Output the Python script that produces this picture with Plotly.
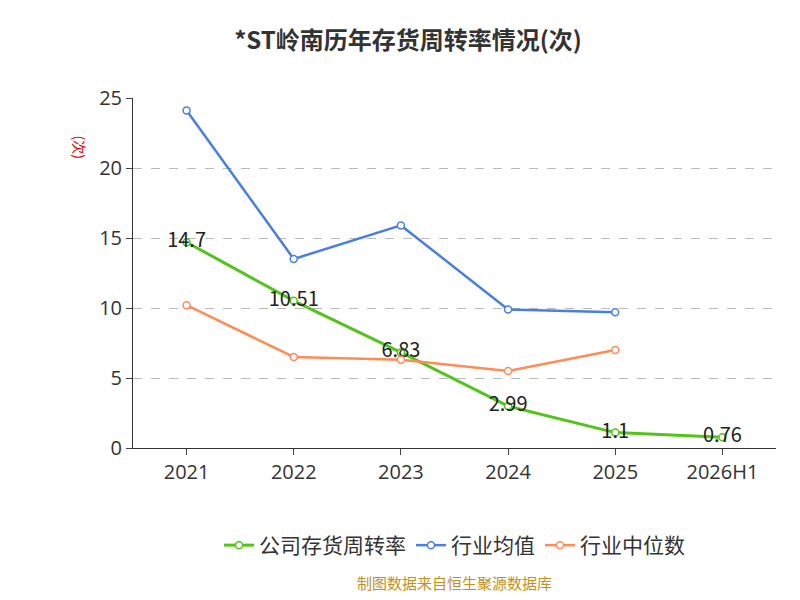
import plotly.graph_objects as go

years = ['2021', '2022', '2023', '2024', '2025', '2026H1']
company = [14.7, 10.51, 6.83, 2.99, 1.1, 0.76]
industry_mean = [24.1, 13.5, 15.9, 9.9, 9.7]
industry_median = [10.2, 6.5, 6.3, 5.5, 7.0]

fig = go.Figure()

fig.add_trace(go.Scatter(
    x=years, y=company, name='公司存货周转率', mode='lines+markers+text',
    text=[str(v) for v in company], textposition='middle center',
    textfont=dict(size=20, color='#222'),
    line=dict(color='#52c41a', width=3),
    marker=dict(symbol='circle', size=7, color='white', line=dict(color='#52c41a', width=1.5))))

fig.add_trace(go.Scatter(
    x=years[:5], y=industry_mean, name='行业均值', mode='lines+markers',
    line=dict(color='#4a7fe0', width=2.5),
    marker=dict(symbol='circle', size=7, color='white', line=dict(color='#4a7fe0', width=1.5))))

fig.add_trace(go.Scatter(
    x=years[:5], y=industry_median, name='行业中位数', mode='lines+markers',
    line=dict(color='#ff8c55', width=2.5),
    marker=dict(symbol='circle', size=7, color='white', line=dict(color='#ff8c55', width=1.5))))

fig.update_layout(
    width=800, height=600,
    paper_bgcolor='white', plot_bgcolor='white',
    font=dict(family='Noto Sans CJK SC', color='#333'),
    title=dict(text='<b>*ST岭南历年存货周转率情况(次)</b>', x=0.5, y=0.96,
               xanchor='center', font=dict(size=24, color='#333')),
    margin=dict(l=125, r=32, t=90, b=160),
    showlegend=True,
    legend=dict(orientation='h', x=0.5, xanchor='center', y=-0.22, yanchor='top',
                font=dict(size=21, color='#333')),
    xaxis=dict(type='category', showgrid=False, showline=True, linecolor='#333',
               ticks='outside', ticklen=6, tickfont=dict(family='Open Sans', size=20, color='#333'),
               range=[-0.5, 5.5]),
    yaxis=dict(range=[0, 25], dtick=5, showgrid=True, gridcolor='#bbb', griddash='dash',
               showline=True, linecolor='#333', ticks='outside', ticklen=6,
               tickfont=dict(family='Open Sans', size=20, color='#333'), zeroline=False),
    annotations=[
        dict(text='(次)', x=0.0, xref='paper', y=0.9, yref='paper', xshift=-65,
             showarrow=False, textangle=90, font=dict(size=14, color='#e00000')),
        dict(text='制图数据来自恒生聚源数据库', x=0.5, xref='paper', y=-0.42, yref='paper',
             showarrow=False, font=dict(size=15, color='#c8901a')),
    ],
)

fig.write_html('out.html')
